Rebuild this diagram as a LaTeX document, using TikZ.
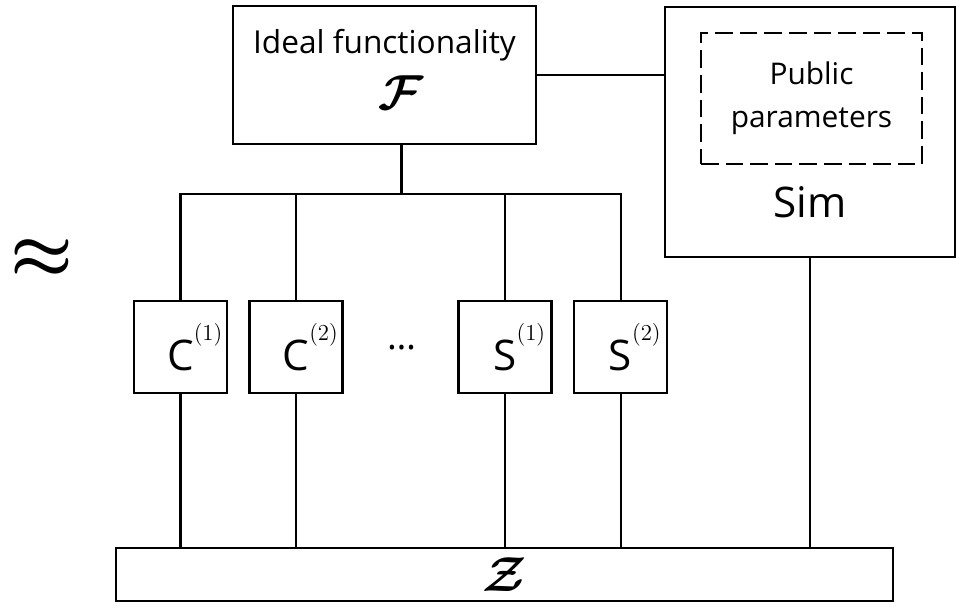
\RequirePackage{fix-cm}
\documentclass[tikz,border=0pt]{standalone}
\usepackage{amsmath,amssymb}
\usepackage{fontspec}
\setmainfont{Open Sans}
\usetikzlibrary{calc}
\newcommand{\partyidx}[1]{\rlap{\raisebox{17pt}{\fontsize{13}{13}\selectfont$(#1)$}}}

\begin{document}
\begin{tikzpicture}[
  party/.style={draw,line width=1.4pt,minimum width=1.86cm,minimum height=1.84cm,inner sep=0pt,font=\fontsize{24}{24}\selectfont},
  frame/.style={draw,line width=1.4pt,inner sep=0pt},
  wire/.style={line width=1.15pt}]
%\draw[help lines] (0,-13) grid (20,0);
\useasboundingbox (0,0) rectangle (19.18,-12.14);

\node[frame,minimum width=6.06cm,minimum height=2.76cm] (func) at (7.69,-1.5){};
\node[font=\fontsize{18}{18}\selectfont] (functxt) at (7.69,-0.9){Ideal functionality};
\node (funcF) at (8.03,-1.85){\fontsize{28}{28}\selectfont$\boldsymbol{\mathcal{F}}$};

\node[frame,minimum width=5.8cm,minimum height=5cm] (sim) at (16.2,-2.64){};
\node[frame,dash pattern=on 10pt off 4pt,minimum width=4.42cm,minimum height=2.62cm,align=center,
  font=\fontsize{17}{24.5}\selectfont] (pp) at (16.23,-1.97){Public\\parameters};
\node[font=\fontsize{24}{24}\selectfont] (simtxt) at (16.2,-4.05){Sim};

\node at (0.84,-5.18) (approx){\fontsize{40}{40}\selectfont$\boldsymbol{\approx}$};

\node[party] (c1) at (3.61,-6.94){C\partyidx{1}};
\node[party] (c2) at (5.92,-6.94){C\partyidx{2}};
\node[font=\fontsize{21}{21}\selectfont] (dots) at (8.04,-6.96){\dots};
\node[party] (s1) at (10.1,-6.94){S\partyidx{1}};
\node[party] (s2) at (12.41,-6.94){S\partyidx{2}};

\node[frame,minimum width=15.54cm,minimum height=1.06cm] (env) at (10.09,-11.49){\fontsize{28}{28}\selectfont$\boldsymbol{\mathcal{Z}}$};

\coordinate (bus) at (0,-3.88);
\draw[wire] (funcF |- func.south) -- (funcF |- bus);
\draw[wire] (c1.north) -- (c1 |- bus) -- (s2 |- bus) -- (s2.north);
\draw[wire] (c2.north) -- (c2 |- bus);
\draw[wire] (s1.north) -- (s1 |- bus);
\foreach \p in {c1,c2,s1,s2}
  \draw[wire] (\p.south) -- (\p |- env.north);
\draw[wire] (sim.south) -- (sim |- env.north);
\draw[wire] (func.east) -- (func.east -| sim.west);
\end{tikzpicture}
\end{document}
